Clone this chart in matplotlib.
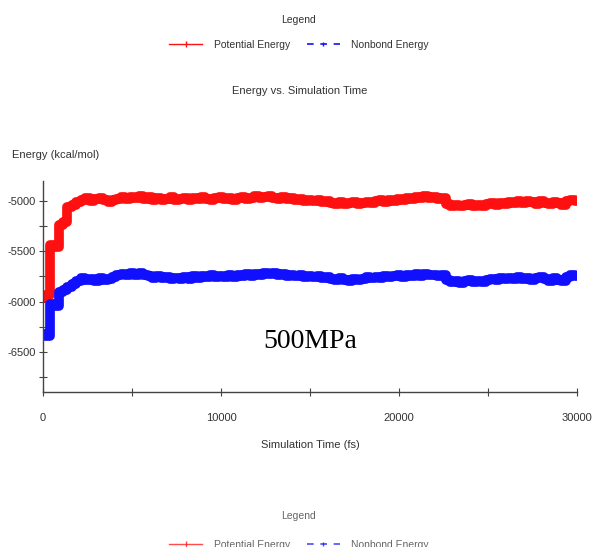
import numpy as np
import matplotlib
matplotlib.use('Agg')
import matplotlib.pyplot as plt
from matplotlib.lines import Line2D
from matplotlib.ticker import MultipleLocator

# ==== Data (one value every 250 fs) ====
time_fs = np.arange(0, 30001, 250)

potential = [
    -5960, -5930, -5440, -5460, -5240, -5210, -5060, -5040,
    -5010, -4985, -4970, -4995, -4980, -4965, -4990, -5010,
    -4985, -4975, -4960, -4980, -4955, -4970, -4950, -4975,
    -4960, -4985, -4970, -4990, -4975, -4960, -4985, -4975,
    -4965, -4985, -4970, -4980, -4960, -4975, -4990, -4970,
    -4960, -4980, -4965, -4985, -4970, -4955, -4975, -4965,
    -4950, -4970, -4960, -4945, -4965, -4975, -4960, -4980,
    -4970, -4985, -4975, -4995, -4985, -5000, -4990, -5010,
    -5000, -5015, -5025, -5010, -5030, -5020, -5010, -5025,
    -5015, -5005, -5020, -5000, -4990, -5005, -4985, -4995,
    -4975, -4985, -4965, -4975, -4955, -4965, -4950, -4970,
    -4960, -4975, -4965, -5030, -5045, -5035, -5050, -5040,
    -5030, -5045, -5035, -5050, -5030, -5020, -5035, -5015,
    -5025, -5005, -5020, -5000, -5015, -4995, -5010, -5025,
    -5000, -5015, -5030, -5005, -5020, -5040, -5000, -4985,
    -5000,
]

nonbond = [
    -6320, -6340, -6020, -6040, -5900, -5880, -5850, -5830,
    -5800, -5770, -5790, -5780, -5800, -5770, -5790, -5775,
    -5760, -5740, -5725, -5740, -5720, -5735, -5715, -5740,
    -5750, -5765, -5745, -5770, -5755, -5780, -5765, -5775,
    -5760, -5775, -5750, -5765, -5745, -5760, -5740, -5755,
    -5745, -5760, -5740, -5755, -5735, -5750, -5730, -5745,
    -5725, -5740, -5715, -5730, -5720, -5735, -5725, -5745,
    -5735, -5750, -5740, -5755, -5745, -5760, -5750, -5770,
    -5760, -5775, -5790, -5770, -5785, -5795, -5780, -5790,
    -5775, -5760, -5770, -5755, -5765, -5750, -5760, -5745,
    -5740, -5755, -5735, -5750, -5730, -5745, -5725, -5740,
    -5735, -5750, -5740, -5790, -5810, -5795, -5815, -5800,
    -5790, -5805, -5795, -5810, -5790, -5775, -5790, -5770,
    -5780, -5765, -5775, -5760, -5780, -5765, -5785, -5770,
    -5760, -5780, -5795, -5770, -5785, -5800, -5760, -5735,
    -5745,
]

# first frames spread out along t = 0
potential_start = [-5700, -6100]
nonbond_start = [-6350, -6800]

RED = '#ff1010'
BLUE = '#1010ff'
TXT = '#333333'

plt.rcParams['font.family'] = ['Liberation Sans', 'DejaVu Sans']
plt.rcParams['axes.unicode_minus'] = False

fig = plt.figure(figsize=(5.93, 5.47), dpi=100)
ax = fig.add_axes([43 / 593, 155 / 547, 534 / 593, 211 / 547])

ax.plot([0, 0], potential_start, color=RED, lw=1.2, ls=':')
ax.plot([0, 0], nonbond_start, color=BLUE, lw=1.2, ls=':')
ax.plot(time_fs, potential, color=RED, lw=7.0, drawstyle='steps-mid')
ax.plot(time_fs, nonbond, color=BLUE, lw=7.0, drawstyle='steps-mid')

ax.set_xlim(0, 30000)
ax.set_ylim(-6900, -4800)
ax.xaxis.set_major_locator(MultipleLocator(10000))
ax.xaxis.set_minor_locator(MultipleLocator(5000))
ax.yaxis.set_major_locator(MultipleLocator(500))
ax.yaxis.set_minor_locator(MultipleLocator(250))
ax.tick_params(which='both', direction='inout', length=6, width=0.8,
               color='#444444', labelsize=8, labelcolor=TXT)
ax.tick_params(axis='x', pad=12)
ax.tick_params(axis='y', pad=2)
for s in ['top', 'right']:
    ax.spines[s].set_visible(False)
for s in ['left', 'bottom']:
    ax.spines[s].set_color('#444444')
    ax.spines[s].set_linewidth(1.0)

fig.text(300 / 593, 1 - 91 / 547, 'Energy vs. Simulation Time',
         ha='center', va='center', fontsize=8, color=TXT)
fig.text(12 / 593, 1 - 155 / 547, 'Energy (kcal/mol)',
         ha='left', va='center', fontsize=8, color=TXT)
fig.text(310 / 593, 1 - 445 / 547, 'Simulation Time (fs)',
         ha='center', va='center', fontsize=8, color=TXT)
ax.text(12400, -6460, '500MPa', family=['Liberation Serif', 'DejaVu Serif'],
        fontsize=20, color='black', ha='left', va='baseline')

# ==== Legends (top and the cut-off one at the bottom) ====
def draw_legend(y_title, y_row, alpha):
    fig.text(298 / 593, 1 - y_title / 547, 'Legend', ha='center', va='center',
             fontsize=7.5, color=TXT, alpha=alpha)
    handles = [
        Line2D([], [], color=RED, lw=1.0, marker='|', markersize=5, alpha=alpha),
        Line2D([], [], color=BLUE, lw=1.2, ls=(0, (4, 4)), marker='|',
               markersize=3, markevery=[1], alpha=alpha),
    ]
    leg = fig.legend(handles, ['Potential Energy', 'Nonbond Energy'],
                     loc='center', bbox_to_anchor=(299 / 593, 1 - y_row / 547),
                     ncol=2, frameon=False, fontsize=7.5, handlelength=3.2,
                     handletextpad=1.1, columnspacing=1.6)
    for t in leg.get_texts():
        t.set_color(TXT)
        t.set_alpha(alpha)

draw_legend(20, 45, 1.0)
draw_legend(516, 545, 0.75)

fig.savefig('out.png', dpi=100, facecolor='white')
